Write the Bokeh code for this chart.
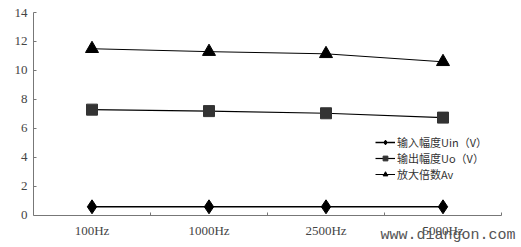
from bokeh.plotting import figure
from bokeh.models import Range1d, FixedTicker, Legend, LegendItem, Label
from bokeh.embed import file_html
from bokeh.resources import INLINE

categories = ["100Hz", "1000Hz", "2500Hz", "5000Hz"]
uin = [0.6, 0.6, 0.6, 0.6]
uo = [7.3, 7.2, 7.05, 6.75]
av = [11.5, 11.3, 11.15, 10.6]
series_names = ["输入幅度Uin（V）", "输出幅度Uo（V）", "放大倍数Av"]
y_ticks = [0, 2, 4, 6, 8, 10, 12, 14]
watermark = "www.diangon.com"

xs = [i + 0.5 for i in range(len(categories))]
n = len(categories)

p = figure(width=521, height=247, output_backend="svg", toolbar_location=None,
           x_range=Range1d(0, n * 488 / 468), y_range=Range1d(-2.207, 14),
           min_border_left=33, min_border_right=0, min_border_top=12, min_border_bottom=0)
p.outline_line_color = None
p.grid.visible = False
p.background_fill_color = "white"

serif = "Liberation Serif"
p.yaxis.ticker = FixedTicker(ticks=y_ticks)
p.yaxis.bounds = (0, 14)
p.yaxis.major_tick_in = 3
p.yaxis.major_tick_out = 0
p.yaxis.minor_tick_line_color = None
p.yaxis.axis_line_color = "#777777"
p.yaxis.major_tick_line_color = "#777777"
p.yaxis.major_label_text_font = serif
p.yaxis.major_label_text_font_size = "13px"
p.yaxis.major_label_text_color = "#444444"
p.yaxis.major_label_standoff = 6

p.xaxis.fixed_location = 0
p.xaxis.bounds = (0, n)
p.xaxis.ticker = FixedTicker(ticks=xs, minor_ticks=list(range(1, n + 1)))
p.xaxis.major_label_overrides = {x: c for x, c in zip(xs, categories)}
p.xaxis.major_tick_line_color = None
p.xaxis.minor_tick_in = 3
p.xaxis.minor_tick_out = 0
p.xaxis.minor_tick_line_color = "#777777"
p.xaxis.axis_line_color = "#777777"
p.xaxis.major_label_text_font = serif
p.xaxis.major_label_text_font_size = "13px"
p.xaxis.major_label_text_color = "#444444"
p.xaxis.major_label_standoff = 2

l1 = p.line(xs, uin, line_color="black", line_width=1.5)
m1 = p.scatter(xs, uin, marker="diamond", size=14, color="black")
l2 = p.line(xs, uo, line_color="black", line_width=1.2)
m2 = p.scatter(xs, uo, marker="square", size=11, color="#333333")
l3 = p.line(xs, av, line_color="black", line_width=1)
m3 = p.scatter(xs, av, marker="triangle", size=13, color="black")

legend = Legend(items=[
    LegendItem(label=series_names[0], renderers=[l1, m1]),
    LegendItem(label=series_names[1], renderers=[l2, m2]),
    LegendItem(label=series_names[2], renderers=[l3, m3]),
], location=(342, 65))
legend.border_line_color = None
legend.background_fill_alpha = 0
legend.label_text_font = "Noto Sans CJK SC"
legend.label_text_font_size = "11px"
legend.label_text_color = "#333333"
legend.glyph_width = 20
legend.glyph_height = 12
legend.label_height = 12
legend.spacing = 0
legend.padding = 2
legend.label_standoff = 2
p.add_layout(legend)

wm = Label(x=347, y=4, x_units="screen", y_units="screen", text=watermark,
           text_font="Liberation Mono", text_font_size="15px", text_color="#555555")
p.add_layout(wm)

open("out.html", "w").write(file_html(p, INLINE))
